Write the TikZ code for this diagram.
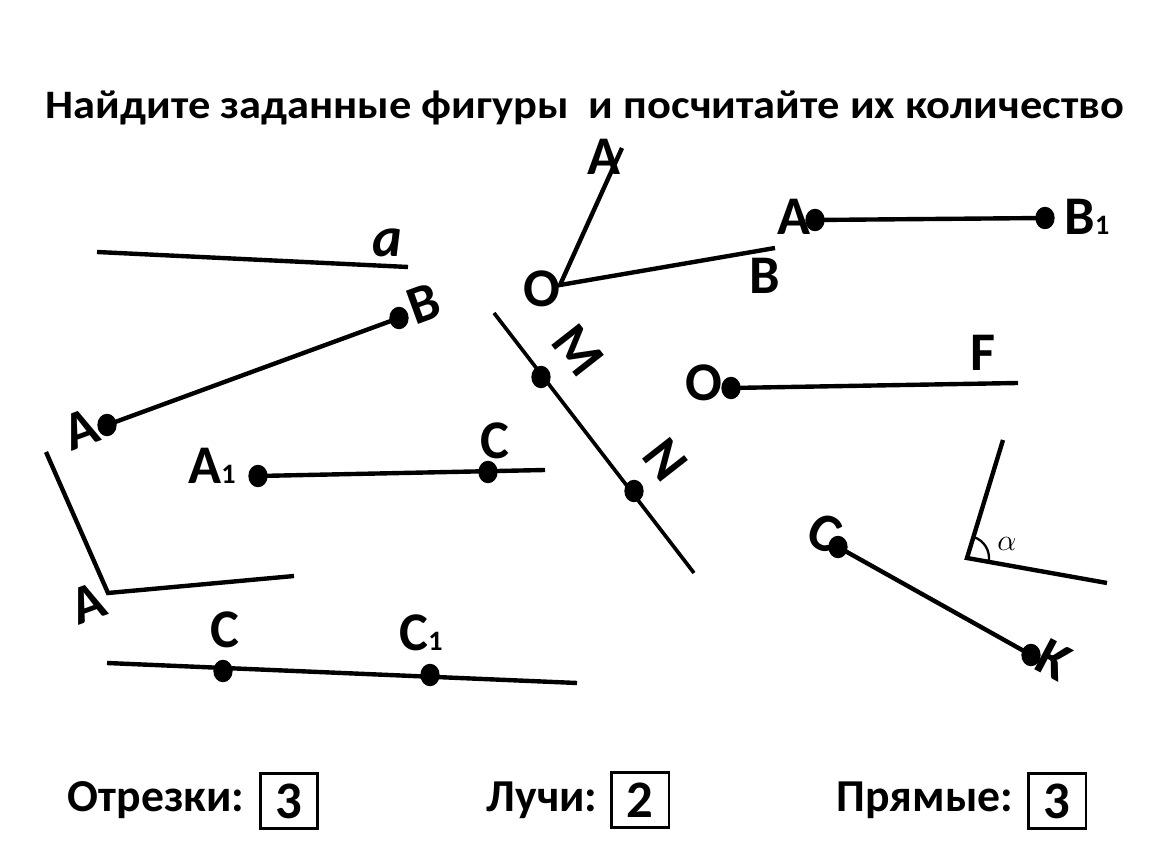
\documentclass[tikz,border=0pt]{standalone}
\usepackage{fontspec}
\setmainfont{Carlito}
\usetikzlibrary{angles,shapes.geometric}
\tikzset{
  pt/.style={ellipse,fill,inner sep=0pt,minimum width=11pt,minimum height=12.8pt},
  lbl/.style={font=\fontsize{31}{32}\selectfont\bfseries,inner sep=1pt},
  ln/.style={line width=2.5pt},
  ansbox/.style={draw,line width=1.7pt,minimum width=33pt,minimum height=31pt,inner sep=0pt,font=\fontsize{30}{30}\selectfont\bfseries},
  anstext/.style={font=\fontsize{26}{27}\selectfont\bfseries}
}
\newcommand{\sub}[1]{\fontsize{16}{16}\selectfont #1}
\begin{document}
\begin{tikzpicture}[x=0.02cm,y=-0.02cm]
    \useasboundingbox (0,0) rectangle (1150,864);
    \node[font=\fontsize{23}{26}\selectfont\bfseries] (title) at (585,108) {\scalebox{1.1}[1]{Найдите заданные фигуры\ \ и посчитайте их количество}};

    \coordinate (a1) at (97,252);
    \coordinate (a2) at (408,267);
    \draw[ln] (a1) -- (a2);
    \node[lbl,font=\fontsize{32}{32}\selectfont\bfseries\itshape] (la) at (387,243) {a};

    \node[pt] (ab-a) at (107,425) {};
    \node[pt] (ab-b) at (399,318) {};
    \draw[ln] (ab-a.center) -- (ab-b.center);
    \node[lbl,rotate=20] (lab-a) at (81,429) {A};
    \node[lbl,rotate=20] (lab-b) at (424,304) {B};

    \coordinate (k1) at (46,452);
    \coordinate (kv) at (108,593);
    \coordinate (k2) at (294,576);
    \draw[ln] (k1) -- (kv) -- (k2);
    \node[lbl,rotate=20] (lk) at (88,603) {A};

    \coordinate (cc1) at (107,663);
    \coordinate (cc2) at (577,683);
    \draw[ln] (cc1) -- (cc2);
    \node[pt] (cc-c) at (223,671) {};
    \node[pt] (cc-c1) at (430,675) {};
    \node[lbl] (lcc-c) at (225,630) {C};
    \node[lbl] (lcc-c1) at (421,633) {C\sub{1}};

    \node[pt] (r-a1) at (258,476) {};
    \node[pt] (r-c) at (488,472) {};
    \coordinate (r-end) at (545,470);
    \draw[ln] (r-a1.center) -- (r-end);
    \node[lbl] (lr-a1) at (212,466) {A\sub{1}};
    \node[lbl] (lr-c) at (495,441) {C};

    \coordinate (mn1) at (494,313);
    \coordinate (mn2) at (694,573);
    \draw[line width=2.1pt] (mn1) -- (mn2);
    \node[pt] (mn-m) at (541,377) {};
    \node[pt] (mn-n) at (634,491) {};
    \node[lbl,rotate=-52] (lmn-m) at (578,350) {M};
    \node[lbl,rotate=-52] (lmn-n) at (665,460) {N};

    \coordinate (o-v) at (560,285);
    \coordinate (o-a) at (622,148);
    \coordinate (o-b) at (775,248);
    \draw[ln] (o-a) -- (o-v) -- (o-b);
    \node[lbl] (lo-a) at (604,157) {A};
    \node[lbl] (lo-v) at (542,289) {O};
    \node[lbl] (lo-b) at (765,276) {B};

    \node[pt] (s-a) at (815,220) {};
    \node[pt] (s-b1) at (1045,218) {};
    \draw[ln] (s-a.center) -- (s-b1.center);
    \node[lbl] (ls-a) at (794,217) {A};
    \node[lbl] (ls-b1) at (1087,217) {B\sub{1}};

    \node[pt] (f-o) at (731,388) {};
    \coordinate (f-end) at (1018,383);
    \draw[ln] (f-o.center) -- (f-end);
    \node[lbl] (lf-o) at (704,383) {O};
    \node[lbl] (lf-f) at (983,353) {F};

    \coordinate (al-u) at (1003,440);
    \coordinate (al-v) at (967,558);
    \coordinate (al-l) at (1107,583);
    \draw[ln] (al-u) -- (al-v) -- (al-l);
    \pic[draw,line width=1.3pt,angle radius=0.44cm] {angle=al-l--al-v--al-u};
    \node[font=\fontsize{17}{17}\selectfont] (lal) at (1007,544) {$\alpha$};

    \node[pt] (ck-c) at (838,547) {};
    \node[pt] (ck-k) at (1031,655) {};
    \draw[ln] (ck-c.center) -- (ck-k.center);
    \node[lbl,rotate=-28] (lck-c) at (825,533) {C};
    \node[lbl,rotate=-28] (lck-k) at (1054,660) {K};

    \node[anstext] (seg) at (156,800) {Отрезки:};
    \node[ansbox] (seg-n) at (289,801) {3};
    \node[anstext] (ray) at (542,800) {Лучи:};
    \node[ansbox] (ray-n) at (640,800) {2};
    \node[anstext] (lin) at (925,800) {Прямые:};
    \node[ansbox] (lin-n) at (1057,801) {3};
\end{tikzpicture}
\end{document}
